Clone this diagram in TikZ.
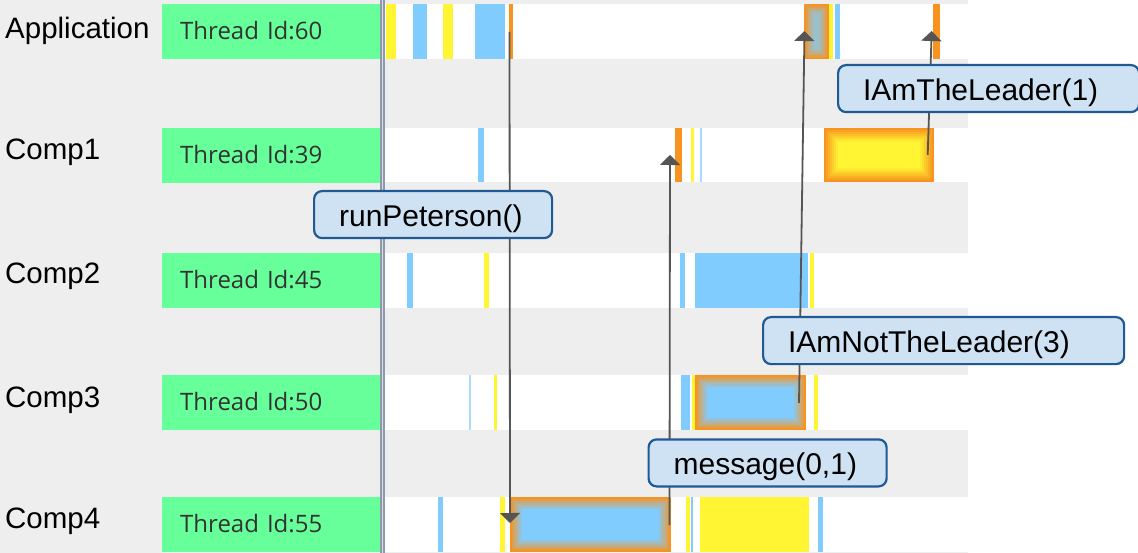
\documentclass[tikz,border=0pt]{standalone}
\usepackage{fontspec}
\setmainfont{Liberation Sans}
\newfontfamily\idfont{Open Sans}
\usetikzlibrary{arrows.meta}
\definecolor{bggray}{HTML}{EEEEEE}
\definecolor{idgreen}{HTML}{66FF99}
\definecolor{idtext}{HTML}{333333}
\definecolor{evyellow}{HTML}{FFF533}
\definecolor{evblue}{HTML}{80CCFF}
\definecolor{evthin}{HTML}{A8DCFF}
\definecolor{evorange}{HTML}{F7931E}
\definecolor{notefill}{HTML}{CFE2F3}
\definecolor{noteline}{HTML}{1F5A94}
\definecolor{msgline}{HTML}{555555}
\definecolor{sepline}{HTML}{8E9AAA}
\definecolor{sepfill}{HTML}{D8DDE3}
\tikzset{
  lane/.style={anchor=base west, inner sep=0pt, font=\fontsize{29.5}{34}\selectfont},
  tid/.style={fill=idgreen, anchor=north west, minimum width=218pt, minimum height=55pt,
    inner xsep=18pt, inner ysep=0pt, text width=182pt, align=left, text height=18pt, text depth=3pt,
    text=idtext, font=\idfont\fontsize{24}{28}\selectfont},
  note/.style={draw=noteline, line width=2.2pt, fill=notefill, rounded corners=8pt, anchor=north west,
    minimum height=47pt, inner xsep=25pt, inner ysep=0pt, align=left, text height=29pt, text depth=6pt,
    font=\fontsize{30}{34}\selectfont},
  msg/.style={draw=msgline, line width=1.8pt, -{Triangle[width=20pt,length=10pt]}}
}
\begin{document}
\begin{tikzpicture}[x=1pt,y=-1pt]
  \useasboundingbox (0,0) rectangle (1138,553);
  \fill[white] (0,0) rectangle (1138,553);
  \fill[bggray] (0,0) rectangle (968,553);
  % lanes
  \fill[white] (385,4) rectangle (968,59);
  \fill[white] (385,128) rectangle (968,182);
  \fill[white] (385,253) rectangle (968,308);
  \fill[white] (385,375) rectangle (968,430);
  \fill[white] (385,497) rectangle (968,552);
  \fill[sepfill] (380,0) rectangle (385,553);
  \draw[sepline, line width=1.5pt] (380.8,0) -- (380.8,553) (384.2,0) -- (384.2,553);
  \draw
    (5,39) node[lane] (application){Application}
    (5,160) node[lane] (comp1){Comp1}
    (5,284) node[lane] (comp2){Comp2}
    (5,407) node[lane] (comp3){Comp3}
    (5,528) node[lane] (comp4){Comp4};
  \draw
    (162,4) node[tid] (tid60){Thread Id:60}
    (162,128) node[tid] (tid39){Thread Id:39}
    (162,253) node[tid] (tid45){Thread Id:45}
    (162,375) node[tid] (tid50){Thread Id:50}
    (162,497) node[tid] (tid55){Thread Id:55};
  % Application
  \fill[evyellow] (385.7,4) rectangle (396,59);
  \fill[evblue] (412.7,4) rectangle (427.3,59);
  \fill[evyellow] (443.3,4) rectangle (452.7,59);
  \fill[evblue] (474.7,4) rectangle (505.3,59);
  \fill[evorange] (509,4) rectangle (512.7,59);
  \fill[evorange] (804,4) rectangle (829.3,59);
  \fill[evorange!80!evblue] (806,6) rectangle (827.3,57);
  \fill[evorange!62!evblue] (808,8) rectangle (825.3,55);
  \fill[evorange!46!evblue] (810,10) rectangle (823.3,53);
  \fill[evorange!32!evblue] (812,12) rectangle (821.3,51);
  \fill[evorange!22!evblue] (814,14) rectangle (820,49);
  \fill[evyellow] (829.3,4) rectangle (833.3,59);
  \fill[evblue] (835,4) rectangle (840,59);
  \fill[evorange] (933.3,4) rectangle (940,59);
  % Comp1
  \fill[evblue] (478.3,128) rectangle (483.7,182);
  \fill[evorange] (675,128) rectangle (681.7,182);
  \fill[evyellow] (691,128) rectangle (694.3,182);
  \fill[evthin] (699.7,128) rectangle (701.7,182);
  \fill[evorange] (824,128) rectangle (934.3,182);
  \fill[evorange!85!evyellow] (826,130) rectangle (932.3,180);
  \fill[evorange!70!evyellow] (828,132) rectangle (930.3,178);
  \fill[evorange!55!evyellow] (830,134) rectangle (928.3,176);
  \fill[evorange!40!evyellow] (832,136) rectangle (926.3,174);
  \fill[evorange!25!evyellow] (834,138) rectangle (924.3,172);
  \fill[evorange!10!evyellow] (836,140) rectangle (922.3,170);
  \fill[evyellow] (838,142) rectangle (920.3,168);
  % Comp2
  \fill[evblue] (407.3,253) rectangle (412.7,308);
  \fill[evyellow] (484,253) rectangle (489.3,308);
  \fill[evblue] (680,253) rectangle (685,308);
  \fill[evblue] (695,253) rectangle (808,308);
  \fill[evyellow] (809.5,253) rectangle (814.3,308);
  % Comp3
  \fill[evthin] (468.7,375) rectangle (471,430);
  \fill[evyellow] (494.3,375) rectangle (496.7,430);
  \fill[evblue] (680.7,375) rectangle (690,430);
  \fill[evyellow] (691.7,375) rectangle (695,430);
  \fill[evorange] (695,375) rectangle (805.7,430);
  \fill[evorange!80!evblue] (697,377) rectangle (803.7,428);
  \fill[evorange!62!evblue] (699,379) rectangle (801.7,426);
  \fill[evorange!46!evblue] (701,381) rectangle (799.7,424);
  \fill[evorange!32!evblue] (703,383) rectangle (797.7,422);
  \fill[evorange!18!evblue] (705,385) rectangle (795.7,420);
  \fill[evblue] (707,387) rectangle (793.7,418);
  \fill[evyellow] (814.3,375) rectangle (817.7,430);
  % Comp4
  \fill[evblue] (438.3,497) rectangle (443.3,552);
  \fill[evyellow] (500,497) rectangle (505,552);
  \fill[evorange] (510,497) rectangle (670.7,552);
  \fill[evorange!80!evblue] (512,499) rectangle (668.7,550);
  \fill[evorange!62!evblue] (514,501) rectangle (666.7,548);
  \fill[evorange!46!evblue] (516,503) rectangle (664.7,546);
  \fill[evorange!32!evblue] (518,505) rectangle (662.7,544);
  \fill[evorange!18!evblue] (520,507) rectangle (660.7,542);
  \fill[evblue] (522,509) rectangle (658.7,540);
  \fill[evyellow] (686,497) rectangle (690,552);
  \fill[evblue] (690.7,497) rectangle (693.3,552);
  \fill[evyellow] (700,497) rectangle (809,552);
  \fill[evblue] (818.3,497) rectangle (823.3,552);
  % message ends
  \coordinate (rp-from) at (509.5,32);
  \coordinate (rp-to) at (510,523);
  \coordinate (msg-from) at (669.5,525);
  \coordinate (msg-to) at (670,155);
  \coordinate (notlead-from) at (799,403);
  \coordinate (notlead-to) at (804.5,31);
  \coordinate (lead-from) at (927.7,155);
  \coordinate (lead-to) at (931.7,31);
  \begin{scope}[msg]
    \draw (rp-from) to (rp-to);
    \draw (msg-from) to (msg-to);
    \draw (notlead-from) to (notlead-to);
    \draw (lead-from) to (lead-to);
  \end{scope}
  \draw
    (313,190) node[note, text width=188pt] (runpeterson){runPeterson()}
    (837,64) node[note, text width=251pt] (theleader){IAmTheLeader(1)}
    (762,316) node[note, text width=311pt] (notleader){IAmNotTheLeader(3)}
    (647.5,438.3) node[note, text width=188pt] (message){message(0,1)};
\end{tikzpicture}
\end{document}
